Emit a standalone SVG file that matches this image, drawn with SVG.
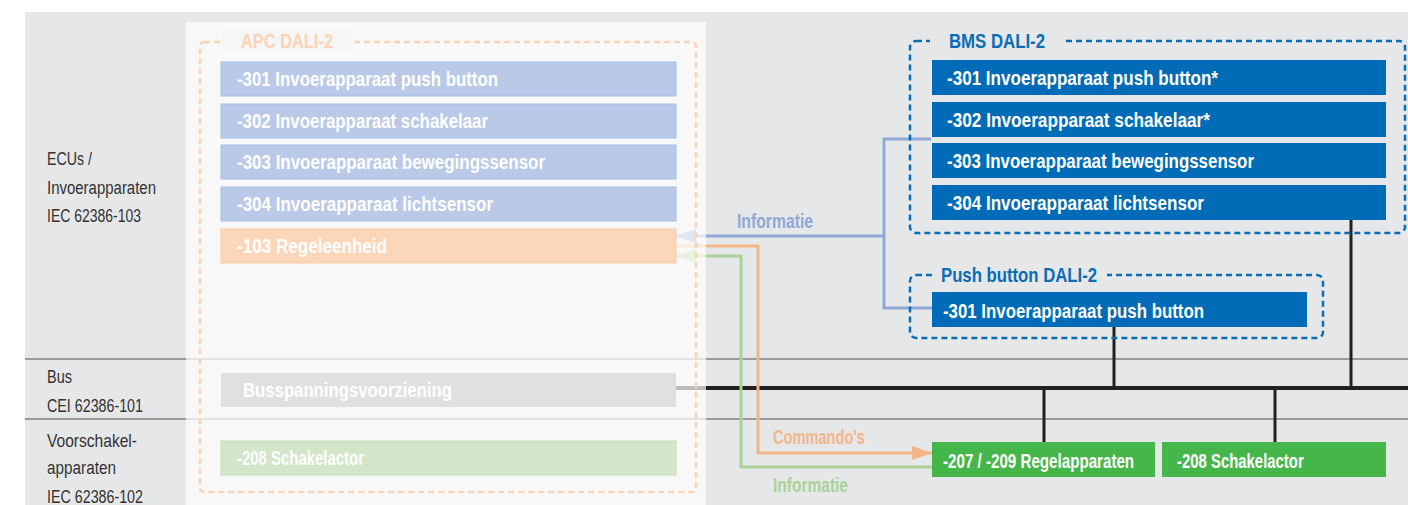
<svg xmlns="http://www.w3.org/2000/svg" width="1408" height="505" viewBox="0 0 1408 505">
<style>
.sec{stroke:#9a9a9a;stroke-width:2;fill:none}
.blk{stroke:#231f20;fill:none}
.lbl{font-family:"Liberation Sans",Arial,sans-serif;font-size:18px;fill:#333}
.bt{font-family:"Liberation Sans",Arial,sans-serif;font-weight:bold;font-size:21px;fill:#fff}
.ttl{font-family:"Liberation Sans",Arial,sans-serif;font-weight:bold;font-size:21px}
.cl{font-family:"Liberation Sans",Arial,sans-serif;font-weight:bold;font-size:20px}
.apcrow{fill:#b9c9e7;stroke:#a5bde5;stroke-width:1}
.bms{fill:#006bb6}
.grn{fill:#45b649}
.dashB{fill:none;stroke:#0a6db5;stroke-width:2.5;stroke-dasharray:6 4}
</style>
<defs>
<marker id="ahB" viewBox="0 0 20 14" refX="20" refY="7" markerWidth="20" markerHeight="14" markerUnits="userSpaceOnUse" orient="auto"><path d="M0,0 L20,7 L0,14 z" fill="#8faad8"/></marker>
<marker id="ahO" viewBox="0 0 20 14" refX="20" refY="7" markerWidth="20" markerHeight="14" markerUnits="userSpaceOnUse" orient="auto"><path d="M0,0 L20,7 L0,14 z" fill="#f2b68a"/></marker>
<marker id="ahG" viewBox="0 0 20 14" refX="20" refY="7" markerWidth="20" markerHeight="14" markerUnits="userSpaceOnUse" orient="auto"><path d="M0,0 L20,7 L0,14 z" fill="#a9d397"/></marker>
</defs>
<rect width="1408" height="505" fill="#ffffff"/>
<rect x="25" y="12" width="1383" height="493" fill="#e6e7e9"/>

<g id="sections">
<line class="sec" x1="25" y1="359" x2="1408" y2="359"/>
<line class="sec" x1="25" y1="419" x2="1408" y2="419"/>
</g>

<g id="row-labels">
<text class="lbl" x="47" y="165" textLength="45" lengthAdjust="spacingAndGlyphs">ECUs /</text>
<text class="lbl" x="47" y="194" textLength="109" lengthAdjust="spacingAndGlyphs">Invoerapparaten</text>
<text class="lbl" x="47" y="222" textLength="94" lengthAdjust="spacingAndGlyphs">IEC 62386-103</text>
<text class="lbl" x="47" y="383" textLength="25" lengthAdjust="spacingAndGlyphs">Bus</text>
<text class="lbl" x="47" y="412" textLength="96" lengthAdjust="spacingAndGlyphs">CEI 62386-101</text>
<text class="lbl" x="47" y="447" textLength="90" lengthAdjust="spacingAndGlyphs">Voorschakel-</text>
<text class="lbl" x="47" y="474" textLength="69" lengthAdjust="spacingAndGlyphs">apparaten</text>
<text class="lbl" x="47" y="503" textLength="96" lengthAdjust="spacingAndGlyphs">IEC 62386-102</text>
</g>

<g id="connectors">
<line class="blk" stroke-width="4" x1="676" y1="388" x2="1408" y2="388"/>
<line class="blk" stroke-width="3" x1="1351" y1="220" x2="1351" y2="388"/>
<line class="blk" stroke-width="3" x1="1114" y1="327" x2="1114" y2="388"/>
<line class="blk" stroke-width="3" x1="1044" y1="388" x2="1044" y2="442"/>
<line class="blk" stroke-width="3" x1="1275" y1="388" x2="1275" y2="442"/>
<path d="M931,139 H884 V308 H932" fill="none" stroke="#8faad8" stroke-width="3"/>
<path d="M884,236 H676" fill="none" stroke="#8faad8" stroke-width="3" marker-end="url(#ahB)"/>
<path d="M676,246 H758 V453 H932" fill="none" stroke="#f2b68a" stroke-width="3" marker-end="url(#ahO)"/>
<path d="M932,467 H741 V256 H676" fill="none" stroke="#a9d397" stroke-width="3" marker-end="url(#ahG)"/>
<text class="cl" x="737" y="228" fill="#8ea9d6" textLength="76" lengthAdjust="spacingAndGlyphs">Informatie</text>
<text class="cl" x="773" y="444" fill="#f2b68a" textLength="92" lengthAdjust="spacingAndGlyphs">Commando's</text>
<text class="cl" x="773" y="492" fill="#a9d397" textLength="75" lengthAdjust="spacingAndGlyphs">Informatie</text>
</g>

<g id="apc">
<rect x="186" y="22" width="520" height="483" fill="#ffffff" fill-opacity="0.7"/>
<rect x="200" y="42" width="496" height="450" rx="4" fill="none" stroke="#fcd3b4" stroke-width="2.5" stroke-dasharray="6 4"/>
<rect x="221" y="30" width="132" height="20" fill="#f6f6f6"/>
<text class="ttl" x="241" y="48" fill="#fcd3b4" textLength="92" lengthAdjust="spacingAndGlyphs">APC DALI-2</text>
<g id="apc-301"><rect class="apcrow" x="221" y="62" width="455" height="34"/><text class="bt" x="237" y="86" textLength="261" lengthAdjust="spacingAndGlyphs">-301 Invoerapparaat push button</text></g>
<g id="apc-302"><rect class="apcrow" x="221" y="104" width="455" height="34"/><text class="bt" x="237" y="128" textLength="251" lengthAdjust="spacingAndGlyphs">-302 Invoerapparaat schakelaar</text></g>
<g id="apc-303"><rect class="apcrow" x="221" y="145" width="455" height="34"/><text class="bt" x="237" y="169" textLength="308" lengthAdjust="spacingAndGlyphs">-303 Invoerapparaat bewegingssensor</text></g>
<g id="apc-304"><rect class="apcrow" x="221" y="187" width="455" height="34"/><text class="bt" x="237" y="211" textLength="256" lengthAdjust="spacingAndGlyphs">-304 Invoerapparaat lichtsensor</text></g>
<g id="apc-103"><rect x="221" y="229" width="455" height="34" fill="#fcd6b8" stroke="#f9cba8" stroke-width="1"/><text class="bt" x="237" y="253" textLength="150" lengthAdjust="spacingAndGlyphs">-103 Regeleenheid</text></g>
<g id="apc-bus"><rect x="221" y="373" width="455" height="34" fill="#dfe0e2"/><text class="bt" x="243" y="397" fill="#f7f7f7" textLength="209" lengthAdjust="spacingAndGlyphs">Busspanningsvoorziening</text></g>
<g id="apc-208"><rect x="221" y="441" width="455" height="34" fill="#d2e6c9" stroke="#c4dfb8" stroke-width="1"/><text class="bt" x="237" y="465" textLength="127" lengthAdjust="spacingAndGlyphs">-208 Schakelactor</text></g>
</g>

<g id="bms">
<rect class="dashB" x="910" y="41" width="495" height="192" rx="6"/>
<rect x="930" y="30" width="134" height="22" fill="#e6e7e9"/>
<text class="ttl" x="949" y="48" fill="#0a6db5" textLength="96" lengthAdjust="spacingAndGlyphs">BMS DALI-2</text>
<g id="bms-301"><rect class="bms" x="932" y="60" width="454" height="35"/><text class="bt" x="947" y="85" textLength="271" lengthAdjust="spacingAndGlyphs">-301 Invoerapparaat push button*</text></g>
<g id="bms-302"><rect class="bms" x="932" y="102" width="454" height="35"/><text class="bt" x="947" y="127" textLength="263" lengthAdjust="spacingAndGlyphs">-302 Invoerapparaat schakelaar*</text></g>
<g id="bms-303"><rect class="bms" x="932" y="143" width="454" height="35"/><text class="bt" x="947" y="168" textLength="307" lengthAdjust="spacingAndGlyphs">-303 Invoerapparaat bewegingssensor</text></g>
<g id="bms-304"><rect class="bms" x="932" y="185" width="454" height="35"/><text class="bt" x="947" y="210" textLength="257" lengthAdjust="spacingAndGlyphs">-304 Invoerapparaat lichtsensor</text></g>
</g>

<g id="pushbutton">
<rect class="dashB" x="910" y="275" width="413" height="63" rx="6"/>
<rect x="932" y="262" width="175" height="22" fill="#e6e7e9"/>
<text class="ttl" x="941" y="282" fill="#0a6db5" textLength="156" lengthAdjust="spacingAndGlyphs">Push button DALI-2</text>
<g id="pb-301"><rect class="bms" x="932" y="292" width="375" height="35"/><text class="bt" x="943" y="318" textLength="261" lengthAdjust="spacingAndGlyphs">-301 Invoerapparaat push button</text></g>
</g>

<g id="ecg-207-209"><rect class="grn" x="932" y="442" width="223" height="35"/><text class="bt" transform="translate(943,468) scale(0.7,1)" x="0" y="0" textLength="273" lengthAdjust="spacingAndGlyphs">-207 / -209 Regelapparaten</text></g>
<g id="ecg-208"><rect class="grn" x="1162" y="442" width="224" height="35"/><text class="bt" transform="translate(1177,468) scale(0.7,1)" x="0" y="0" textLength="181" lengthAdjust="spacingAndGlyphs">-208 Schakelactor</text></g>
</svg>
